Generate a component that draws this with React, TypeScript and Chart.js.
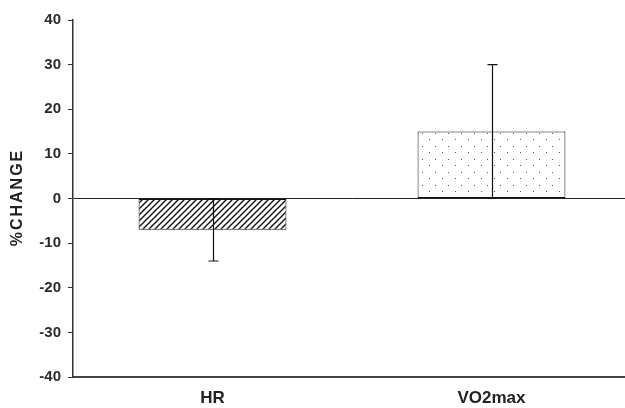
import React, { useEffect, useRef } from "react";
import { Chart, registerables } from "chart.js";

Chart.register(...registerables);

const categories = ["HR", "VO2max"];
const changeValues = [-7, 15];
const errorValues = [7, 15];
const yTicks = [-40, -30, -20, -10, 0, 10, 20, 30, 40];
const yTitle = "%CHANGE";

const FAMILY = "'Liberation Sans', Arial, sans-serif";

function makeHatch(): CanvasPattern | string {
  const c = document.createElement("canvas");
  const s = 6;
  c.width = s;
  c.height = s;
  const g = c.getContext("2d");
  if (!g) return "#000";
  g.fillStyle = "#fff";
  g.fillRect(0, 0, s, s);
  g.strokeStyle = "#111";
  g.lineWidth = 1.4;
  g.beginPath();
  g.moveTo(-1, s + 1);
  g.lineTo(s + 1, -1);
  g.moveTo(-1, 1);
  g.lineTo(1, -1);
  g.moveTo(s - 1, s + 1);
  g.lineTo(s + 1, s - 1);
  g.stroke();
  return g.createPattern(c, "repeat") || "#000";
}

function makeDots(): CanvasPattern | string {
  const c = document.createElement("canvas");
  const s = 13;
  c.width = s;
  c.height = s;
  const g = c.getContext("2d");
  if (!g) return "#fff";
  g.fillStyle = "#fff";
  g.fillRect(0, 0, s, s);
  g.fillStyle = "#555";
  g.fillRect(6, 3, 1, 1);
  g.fillRect(0, 9, 1, 1);
  return g.createPattern(c, "repeat") || "#fff";
}

const errorBarPlugin = {
  id: "errorBars",
  afterDatasetsDraw(chart: any) {
    const ctx = chart.ctx;
    const meta = chart.getDatasetMeta(0);
    const y = chart.scales.y;
    ctx.save();
    ctx.strokeStyle = "#111";
    ctx.lineWidth = 1.2;
    meta.data.forEach((bar: any, i: number) => {
      const v = changeValues[i];
      const e = errorValues[i];
      const x = Math.round(bar.x) + 0.5;
      const y1 = y.getPixelForValue(v - e);
      const y2 = y.getPixelForValue(v + e);
      ctx.beginPath();
      ctx.moveTo(x, y1);
      ctx.lineTo(x, y2);
      ctx.moveTo(x - 5, y1);
      ctx.lineTo(x + 5, y1);
      ctx.moveTo(x - 5, y2);
      ctx.lineTo(x + 5, y2);
      ctx.stroke();
    });
    ctx.restore();
  },
};

const titlePlugin = {
  id: "yTitleSpaced",
  afterDraw(chart: any) {
    const ctx = chart.ctx;
    const area = chart.chartArea;
    ctx.save();
    ctx.translate(18, (area.top + area.bottom) / 2);
    ctx.rotate(-Math.PI / 2);
    ctx.font = `bold 16px ${FAMILY}`;
    (ctx as any).letterSpacing = "2px";
    ctx.fillStyle = "#222";
    ctx.textAlign = "center";
    ctx.textBaseline = "middle";
    ctx.fillText(yTitle, 1, 0);
    ctx.restore();
  },
};

export default function App() {
  const ref = useRef<HTMLCanvasElement>(null);
  useEffect(() => {
    document.body.style.margin = "0";
    if (!ref.current) return;
    const chart = new Chart(ref.current, {
      type: "bar",
      data: {
        labels: categories,
        datasets: [
          {
            data: changeValues,
            backgroundColor: [makeHatch(), makeDots()] as any,
            borderColor: "#111",
            borderWidth: 1,
            borderSkipped: false,
            barPercentage: 0.53,
            categoryPercentage: 1,
          },
        ],
      },
      options: {
        animation: false,
        responsive: false,
        devicePixelRatio: 1,
        layout: { padding: { top: 20, right: 0, bottom: 0, left: 0 } },
        plugins: { legend: { display: false }, tooltip: { enabled: false } },
        scales: {
          x: {
            afterFit: (axis: any) => {
              axis.height = 31;
            },
            grid: { display: false },
            border: { display: true, color: "#444", width: 2 },
            ticks: { color: "#222", font: { family: FAMILY, weight: "bold", size: 17 }, padding: 3 },
          },
          y: {
            min: -40,
            max: 40,
            afterFit: (axis: any) => {
              axis.width = 73;
            },
            afterBuildTicks: (axis: any) => {
              axis.ticks = yTicks.map((v) => ({ value: v }));
            },
            grid: {
              color: (ctx: any) => (ctx.tick && ctx.tick.value === 0 ? "#222" : "rgba(0,0,0,0)"),
              lineWidth: 1,
              drawTicks: true,
              tickLength: 5,
              tickColor: "#333",
            },
            border: { display: true, color: "#333", width: 1.5 },
            ticks: { color: "#2a2a2a", font: { family: FAMILY, weight: "bold", size: 15 }, padding: 7 },
          },
        },
      },
      plugins: [errorBarPlugin, titlePlugin],
    });
    return () => chart.destroy();
  }, []);
  return (
    <div style={{ width: 625, height: 408, overflow: "hidden" }}>
      <canvas ref={ref} width={631} height={408} style={{ display: "block" }} />
    </div>
  );
}
